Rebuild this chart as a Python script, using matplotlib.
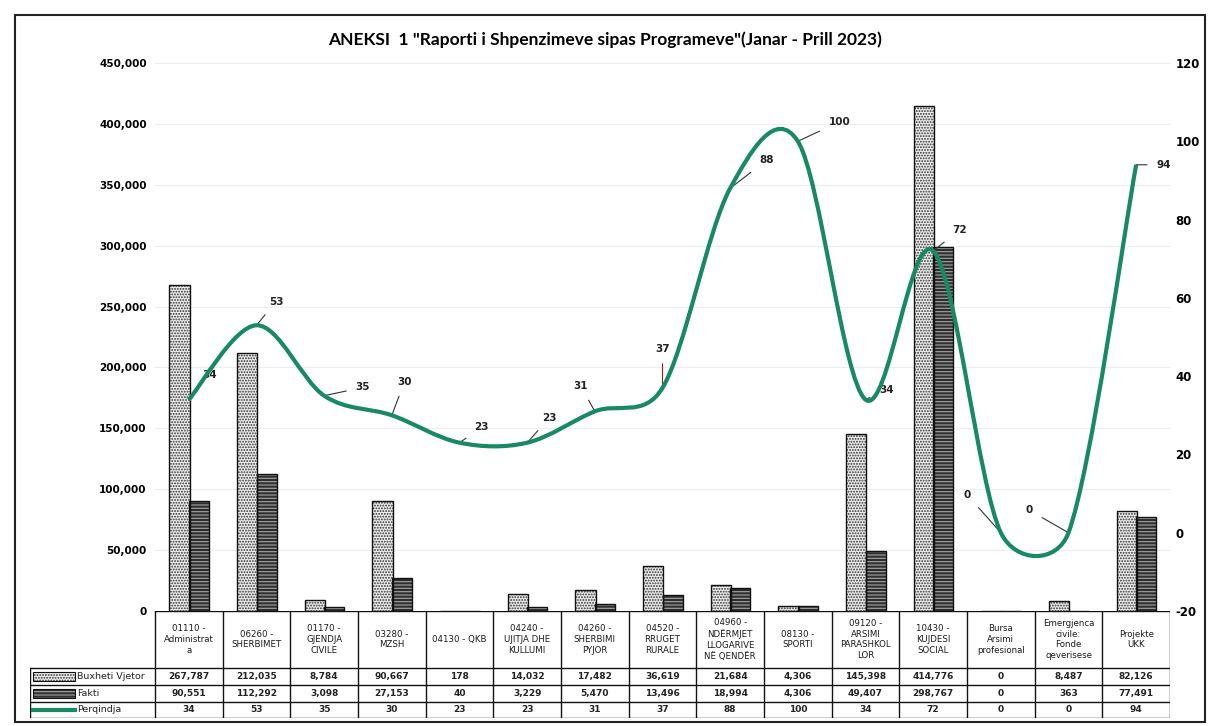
import numpy as np
import matplotlib
matplotlib.use("Agg")
import matplotlib.pyplot as plt
from matplotlib.path import Path
from matplotlib.patches import PathPatch, Rectangle
from matplotlib.lines import Line2D
from matplotlib.ticker import FuncFormatter

# data
categories = ["01110 -\nAdministrat\na", "06260 -\nSHERBIMET", "01170 -\nGJENDJA\nCIVILE",
              "03280 -\nMZSH", "04130 - QKB", "04240 -\nUJITJA DHE\nKULLUMI",
              "04260 -\nSHERBIMI\nPYJOR", "04520 -\nRRUGET\nRURALE",
              "04960 -\nNDËRMJET\nLLOGARIVE\nNË QENDËR", "08130 -\nSPORTI",
              "09120 -\nARSIMI\nPARASHKOL\nLOR", "10430 -\nKUJDESI\nSOCIAL",
              "Bursa\nArsimi\nprofesional", "Emergjenca\ncivile:\nFonde\nqeverisese",
              "Projekte\nUKK"]
buxheti = [267787, 212035, 8784, 90667, 178, 14032, 17482, 36619, 21684, 4306,
           145398, 414776, 0, 8487, 82126]
fakti = [90551, 112292, 3098, 27153, 40, 3229, 5470, 13496, 18994, 4306,
         49407, 298767, 0, 363, 77491]
perqindja = [34, 53, 35, 30, 23, 23, 31, 37, 88, 100, 34, 72, 0, 0, 94]
row_names = ["Buxheti Vjetor", "Fakti", "Perqindja"]

# label offsets in points (layout only)
lbl_off = [(15, 18), (14, 17), (28, 6), (9, 24), (16, 11), (16, 18), (-10, 18),
           (0, 28), (26, 20), (30, 14), (15, 7), (19, 15), (-24, 27), (-28, 16), (20, 0)]
leader_col = ["#333333"] * 7 + ["#b01818"] + ["#333333"] * 7

GREEN = "#178a62"
W, H = 1208, 726
plt.rcParams['font.family'] = ['DejaVu Sans']
plt.rcParams['hatch.linewidth'] = 0.9
plt.rcParams['axes.unicode_minus'] = False

fig = plt.figure(figsize=(W / 100, H / 100), dpi=100)
L, R, B, T = 155, 1170, 611, 63
ax = fig.add_axes([L / W, 1 - B / H, (R - L) / W, (B - T) / H])
ax2 = ax.twinx()

x = np.arange(len(categories))
bw = 0.3
ax.bar(x - 0.14, buxheti, bw, color="#ececec", edgecolor="#333333", hatch="......", lw=0, zorder=2)
ax.bar(x - 0.14, buxheti, bw, fill=False, edgecolor="#111111", lw=1, zorder=3)
ax.bar(x + 0.15, fakti, bw, color="#2e2e2e", edgecolor="#9a9a9a", hatch="-----", lw=0, zorder=2)
ax.bar(x + 0.15, fakti, bw, fill=False, edgecolor="#111111", lw=1, zorder=3)

ax.set_xlim(-0.5, len(categories) - 0.5)
ax.set_ylim(0, 450000)
ax.set_yticks(np.arange(0, 450001, 50000))
ax.yaxis.set_major_formatter(FuncFormatter(lambda v, p: f"{int(v):,}"))
ax.grid(axis="y", color="#ededed", lw=0.8)
ax.set_axisbelow(True)
ax.set_xticks([])
ax.tick_params(axis="y", length=0, pad=6, labelsize=7.5)
for t in ax.get_yticklabels():
    t.set_fontweight("bold")
for sp in ax.spines.values():
    sp.set_visible(False)
for sp in ax2.spines.values():
    sp.set_visible(False)

ax2.set_ylim(-20, 120)
ax2.set_yticks(np.arange(-20, 121, 20))
ax2.tick_params(axis="y", length=0, pad=4, labelsize=8.5)
for t in ax2.get_yticklabels():
    t.set_fontweight("bold")

# smoothed line (bezier through the points, control arms like a spreadsheet smooth line)
k = ((B - T) / 140) / ((R - L) / len(categories))
P = np.column_stack([x, np.array(perqindja, float) * k])
n = len(P)
verts = [P[0]]
codes = [Path.MOVETO]


def arm(i, seg_len):
    a, b = max(i - 1, 0), min(i + 1, n - 1)
    d = (P[b] - P[a]) / 6
    ln = np.hypot(*d)
    if ln > seg_len / 2:
        d = d * (seg_len / 2) / ln
    return d


for i in range(n - 1):
    seg = np.hypot(*(P[i + 1] - P[i]))
    verts += [P[i] + arm(i, seg), P[i + 1] - arm(i + 1, seg), P[i + 1]]
    codes += [Path.CURVE4] * 3
verts = np.array(verts)
verts[:, 1] = verts[:, 1] / k
ax2.add_patch(PathPatch(Path(verts, codes), fill=False, edgecolor=GREEN, lw=3, zorder=4))

for xi, v, off, lc in zip(x, perqindja, lbl_off, leader_col):
    ax2.annotate(str(v), (xi, v), xytext=off, textcoords="offset points",
                 fontsize=7.5, fontweight="bold", color="#222222", ha="center", va="center",
                 arrowprops=dict(arrowstyle="-", color=lc, lw=0.8, shrinkA=5, shrinkB=0))

# title
fig.text(605 / W, 1 - 40 / H, 'ANEKSI  1 "Raporti i Shpenzimeve sipas Programeve"(Janar - Prill 2023)',
         ha="center", va="center", fontsize=12.5, fontweight="bold", family=["Lato", "DejaVu Sans"])

# data table
TL, TB = 30, 718
tax = fig.add_axes([TL / W, 1 - TB / H, (R - TL) / W, (TB - B) / H])
colw = (R - L) / len(categories)
x0 = -0.5 - (L - TL) / colw
tax.set_xlim(x0, len(categories) - 0.5)
rows_y = [0, 57, 74, 91, 107]
tax.set_ylim(rows_y[-1], 0)
tax.axis("off")
lk = dict(color="#111111", lw=1)
for i in range(len(categories) + 1):
    tax.add_line(Line2D([i - 0.5, i - 0.5], [0, rows_y[-1]], **lk))
tax.add_line(Line2D([x0, x0], [rows_y[1], rows_y[-1]], **lk))
tax.add_line(Line2D([-0.5, len(categories) - 0.5], [0, 0], **lk))
for yy in rows_y[1:]:
    tax.add_line(Line2D([x0, len(categories) - 0.5], [yy, yy], **lk))

for i, c in enumerate(categories):
    tax.text(i, rows_y[1] / 2, c, ha="center", va="center", fontsize=6.2,
             linespacing=1.25, color="#1a1a1a")
for r, vals in enumerate([buxheti, fakti, perqindja]):
    yc = (rows_y[r + 1] + rows_y[r + 2]) / 2
    for i, v in enumerate(vals):
        tax.text(i, yc, f"{v:,}", ha="center", va="center", fontsize=6.5,
                 fontweight="bold", color="#222222")

kx0 = x0 + 3 / colw
kx1 = x0 + 45 / colw
for r, name in enumerate(row_names):
    y_top, y_bot = rows_y[r + 1], rows_y[r + 2]
    yc = (y_top + y_bot) / 2
    if r == 0:
        tax.add_patch(Rectangle((kx0, y_top + 4), kx1 - kx0, y_bot - y_top - 8,
                                facecolor="#ececec", edgecolor="#333333", hatch="......", lw=0))
        tax.add_patch(Rectangle((kx0, y_top + 4), kx1 - kx0, y_bot - y_top - 8,
                                fill=False, edgecolor="#111111", lw=0.8))
    elif r == 1:
        tax.add_patch(Rectangle((kx0, y_top + 4), kx1 - kx0, y_bot - y_top - 8,
                                facecolor="#2e2e2e", edgecolor="#9a9a9a", hatch="-----", lw=0))
        tax.add_patch(Rectangle((kx0, y_top + 4), kx1 - kx0, y_bot - y_top - 8,
                                fill=False, edgecolor="#111111", lw=0.8))
    else:
        tax.add_line(Line2D([kx0, kx1], [yc, yc], color=GREEN, lw=3))
    tax.text(kx1 + 2 / colw, yc, name, ha="left", va="center", fontsize=6.8, color="#222222")

# chart border
fig.patches.append(Rectangle((15 / W, 4 / H), (1205 - 15) / W, (711 - 4) / H,
                             transform=fig.transFigure, fill=False, edgecolor="#222222", lw=1.5))

fig.savefig("out.png", dpi=100, facecolor="white")
